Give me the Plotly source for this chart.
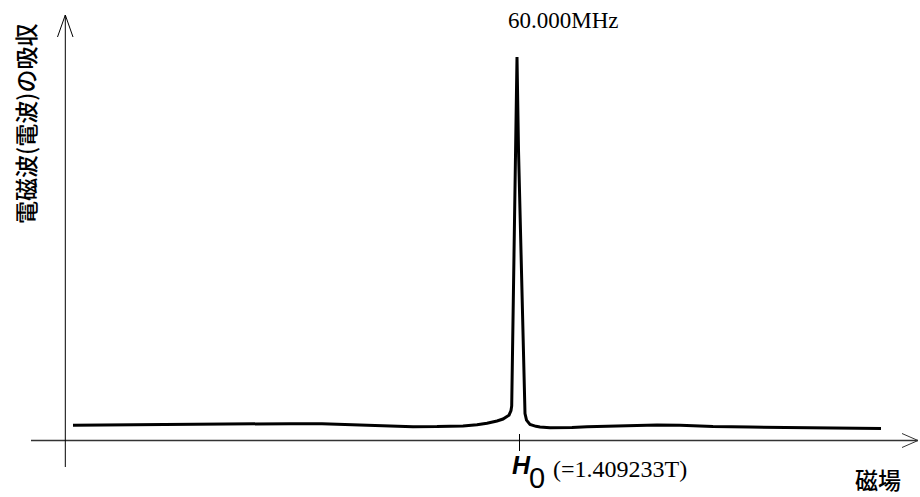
import plotly.graph_objects as go

# Magnetic field offset from resonance (arbitrary units) and absorption (relative)
field = [-44.4, -40.0, -36.0, -30.7, -26.0, -22.7, -19.5, -17.7, -15.5, -13.7, -12.0,
         -10.4, -8.0, -5.4, -4.0, -3.0, -2.0, -1.4, -0.8,
         -0.6, -0.53, -0.27, -0.15, 0.0, 0.15, 0.37, 0.73, 0.8, 0.95, 1.3, 1.9,
         2.3, 3.3, 4.3, 5.5, 7.0, 9.5, 12.0, 14.0, 16.3, 18.0, 19.6, 23.3, 28.3, 36.4]
absorption = [0.040, 0.041, 0.042, 0.043, 0.0435, 0.044, 0.0437, 0.042, 0.040, 0.038, 0.0368,
              0.036, 0.0362, 0.038, 0.041, 0.045, 0.051, 0.056, 0.066,
              0.078, 0.090, 0.497, 0.758, 1.000, 0.758, 0.497, 0.090, 0.070, 0.053, 0.042, 0.037,
              0.035, 0.0335, 0.033, 0.034, 0.036, 0.038, 0.040, 0.0405, 0.040, 0.038, 0.0365,
              0.035, 0.033, 0.031]

peak_label = "60.000MHz"
h0_label = "(=1.409233T)"
x_title = "磁場"
y_title = "電磁波(電波)の吸収"
H0_pos = 0.25

W, H = 920, 497
X_RANGE = [-51.7, 40.3]
Y_RANGE = [-(H - 440.5) / 383.5, 440.5 / 383.5]

def px(x):
    return x / W

def py(y):
    return 1 - y / H

fig = go.Figure()
fig.add_trace(go.Scatter(x=field, y=absorption, mode="lines",
                         line=dict(color="black", width=3), hoverinfo="skip",
                         showlegend=False))

shapes = []
# x axis with open arrow head
shapes.append(dict(type="line", xref="paper", yref="paper", x0=px(31), y0=py(440.5),
                   x1=px(918), y1=py(440.5), line=dict(color="#333", width=1.3)))
shapes.append(dict(type="line", xref="paper", yref="paper", x0=px(902), y0=py(433.5),
                   x1=px(918), y1=py(440.5), line=dict(color="#333", width=1)))
shapes.append(dict(type="line", xref="paper", yref="paper", x0=px(902), y0=py(447.5),
                   x1=px(918), y1=py(440.5), line=dict(color="#333", width=1)))
# y axis with open arrow head
shapes.append(dict(type="line", xref="paper", yref="paper", x0=px(65.3), y0=py(467),
                   x1=px(65.3), y1=py(15), line=dict(color="black", width=1)))
shapes.append(dict(type="line", xref="paper", yref="paper", x0=px(57.5), y0=py(37),
                   x1=px(65.3), y1=py(15), line=dict(color="black", width=1)))
shapes.append(dict(type="line", xref="paper", yref="paper", x0=px(73), y0=py(37),
                   x1=px(65.3), y1=py(15), line=dict(color="black", width=1)))
# H0 tick
shapes.append(dict(type="line", xref="x", yref="paper", x0=H0_pos, y0=py(434),
                   x1=H0_pos, y1=py(451), line=dict(color="black", width=1)))

serif = "Liberation Serif, DejaVu Serif, serif"
sans = "Liberation Sans, Arial, sans-serif"
cjk = "Noto Sans CJK JP, Noto Sans, sans-serif"

def label(text, x, y, family, size, angle=0, weight="normal"):
    return dict(text=text, xref="paper", yref="paper", x=px(x), y=py(y),
                xanchor="center", yanchor="middle", textangle=angle,
                showarrow=False,
                font=dict(family=family, size=size, color="black", weight=weight))

ann = [
    label(peak_label, 563.5, 21, serif, 23),
    label("<b><i>H</i></b>", 521, 464.5, sans, 25),
    label("0", 536.5, 478, sans, 29),
    label(h0_label, 619.5, 469, serif, 24),
    label(x_title, 877.5, 479, cjk, 23, weight=500),
    label(y_title, 25, 124, cjk, 23, -90, weight=500),
]

fig.update_layout(
    width=W, height=H,
    margin=dict(l=0, r=0, t=0, b=0),
    paper_bgcolor="white", plot_bgcolor="white",
    xaxis=dict(range=X_RANGE, visible=False, fixedrange=True),
    yaxis=dict(range=Y_RANGE, visible=False, fixedrange=True),
    shapes=shapes, annotations=ann, showlegend=False,
)
fig.write_html("out.html", config={"displayModeBar": False},
               post_script="document.body.style.margin='0px';")
